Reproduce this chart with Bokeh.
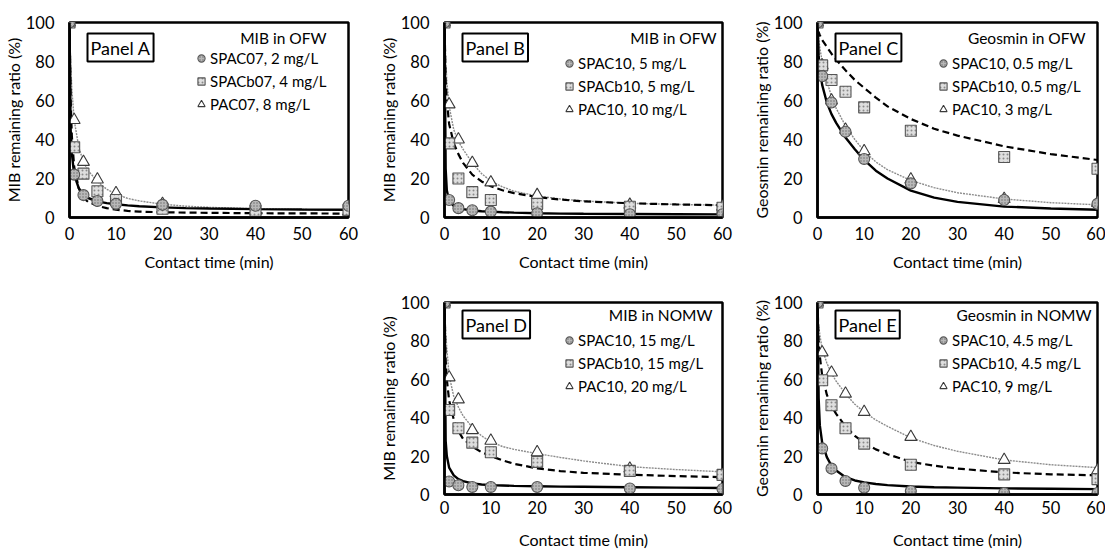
from bokeh.plotting import figure
from bokeh.models import Range1d, FixedTicker, Legend, LegendItem, Label, Spacer
from bokeh.layouts import row, column
from bokeh.embed import file_html
from bokeh.resources import INLINE

# ---------------- data ----------------
TIME = [0, 1, 3, 6, 10, 20, 40, 60]
TFIT = [0, 0.25, 0.5, 1, 2, 3, 4, 6, 8, 10, 12.5, 15, 20, 25, 30, 40, 50, 60]
X_TICKS = [0, 10, 20, 30, 40, 50, 60]
Y_TICKS = [0, 20, 40, 60, 80, 100]

# Panel A: MIB in OFW
A_NAMES = ["SPAC07, 2 mg/L", "SPACb07, 4 mg/L", "PAC07, 8 mg/L"]
A_SPAC = [100, 22, 11.5, 8.5, 7, 6.5, 6, 6]
A_SPACB = [100, 36, 22.5, 13.5, 9, 4.5, 3.5, 4]
A_PAC = [100, 50, 28.5, 19.5, 12.5, 7, 3.5, 3]
A_FIT_SPAC = [100, 45, 33, 22, 15, 11.5, 10, 8.3, 7.4, 6.8, 6.2, 5.8, 5.2, 4.8, 4.6, 4.3, 4.1, 4.0]
A_FIT_SPACB = [100, 60, 42, 26, 15, 10, 8, 6, 4.8, 4, 3.4, 3, 2.7, 2.5, 2.4, 2.2, 2.1, 2.0]
A_FIT_PAC = [100, 80, 66, 50, 36, 28.5, 24, 18.5, 14.5, 12, 9.8, 8.5, 6.8, 5.8, 5.2, 4.5, 4.1, 3.8]

# Panel B: MIB in OFW
B_NAMES = ["SPAC10, 5 mg/L", "SPACb10, 5 mg/L", "PAC10, 10 mg/L"]
B_SPAC = [100, 9, 4.8, 3.7, 3, 2.2, 1.7, 1.7]
B_SPACB = [100, 38, 20, 13, 9, 7, 5.5, 5]
B_PAC = [100, 58, 40, 28, 18, 11.5, 6.5, 5.5]
B_FIT_SPAC = [100, 25, 14, 8.5, 6, 5, 4.3, 3.6, 3.2, 3, 2.7, 2.5, 2.2, 2.0, 1.9, 1.8, 1.7, 1.6]
B_FIT_SPACB = [100, 70, 60, 48, 38, 32.5, 28, 22, 18.5, 16, 14, 12.5, 10.5, 9.2, 8.3, 7.3, 6.7, 6.3]
B_FIT_PAC = [100, 82, 70, 57, 45, 39, 35, 28, 22.5, 18.7, 15.7, 13.5, 11, 9.5, 8.5, 7.3, 6.7, 6.3]

# Panel C: Geosmin in OFW
C_NAMES = ["SPAC10, 0.5 mg/L", "SPACb10, 0.5 mg/L", "PAC10, 3 mg/L"]
C_SPAC = [100, 72.5, 59, 44, 30, 17.5, 9, 7]
C_SPACB = [100, 78, 70.5, 64.5, 56.5, 44.5, 31, 25]
C_PAC = [100, 78, 60, 45, 34, 19.5, 9.5, 7.5]
C_FIT_SPAC = [100, 83, 76, 68, 59, 53, 48.5, 41, 35, 29.5, 24, 20, 13.8, 10.2, 8, 5.6, 4.6, 4.0]
C_FIT_SPACB = [96, 95, 93.5, 91, 87.5, 84, 81, 75.5, 70.5, 66.5, 61.5, 57, 50.5, 45.5, 42, 36.5, 32.5, 29.5]
C_FIT_PAC = [100, 92, 87, 80, 70, 62, 56, 47, 40, 34, 28.5, 24.5, 19, 15.3, 12.7, 9.5, 7.6, 6.5]

# Panel D: MIB in NOMW
D_NAMES = ["SPAC10, 15 mg/L", "SPACb10, 15 mg/L", "PAC10, 20 mg/L"]
D_SPAC = [100, 6.8, 4.8, 3.9, 3.9, 3.9, 3.1, 2.9]
D_SPACB = [100, 44, 34.5, 27, 22, 17, 12.3, 10.2]
D_PAC = [100, 61, 49.5, 33.5, 28, 22, 13.5, 10.2]
D_FIT_SPAC = [100, 28, 20, 14, 10, 8, 7, 5.8, 5.2, 4.9, 4.7, 4.5, 4.3, 4.1, 4.0, 3.8, 3.6, 3.4]
D_FIT_SPACB = [100, 70, 60, 49, 39, 33, 29, 25, 22, 20, 17.8, 16, 13.6, 12.2, 11.3, 10.3, 9.6, 9.0]
D_FIT_PAC = [100, 85, 76, 62, 51, 45.5, 41, 35, 30.5, 27.5, 25, 23.5, 21.3, 19.3, 17.5, 14.5, 13, 11.8]

# Panel E: Geosmin in NOMW
E_NAMES = ["SPAC10, 4.5 mg/L", "SPACb10, 4.5 mg/L", "PAC10, 9 mg/L"]
E_SPAC = [100, 24, 13.5, 7, 3.5, 1.8, 0.8, 0.8]
E_SPACB = [100, 59.5, 46.5, 34.5, 26.5, 15.5, 10.5, 8]
E_PAC = [100, 74, 63.5, 52.5, 43, 30, 18, 12.5]
E_FIT_SPAC = [100, 50, 36, 27, 19.5, 15, 12.5, 9, 7.3, 6.3, 5.5, 4.9, 4.2, 3.8, 3.6, 3.2, 3.0, 2.8]
E_FIT_SPACB = [100, 80, 72, 62, 52, 46, 42, 35.5, 30.5, 27, 23.5, 21, 17, 15, 13.5, 11.5, 10.5, 10]
E_FIT_PAC = [100, 88, 83, 76, 68.5, 63, 59, 52.5, 47, 43, 38.8, 35.5, 29.5, 25.5, 22.5, 18, 15.5, 14]

FONT = "Lato"
FRAME_W, FRAME_H = 280, 195


def make_panel(label, legend_title, ylabel, names, pts, fits, width, height,
               b_left, b_right, b_top, b_bottom, x_std, x_title_std,
               leg_x, leg_top, title_right):
    p = figure(width=width, height=height, x_range=Range1d(0, 60), y_range=Range1d(0, 100),
               output_backend="svg", toolbar_location=None,
               min_border_left=b_left, min_border_right=b_right,
               min_border_top=b_top, min_border_bottom=b_bottom)
    p.xgrid.visible = False
    p.ygrid.visible = False
    p.background_fill_color = "white"
    p.border_fill_color = "white"
    p.outline_line_color = "black"
    p.outline_line_width = 2.5
    p.outline_line_alpha = 1.0

    p.xaxis.ticker = FixedTicker(ticks=X_TICKS)
    p.yaxis.ticker = FixedTicker(ticks=Y_TICKS)
    for ax in (p.xaxis, p.yaxis):
        ax.axis_line_width = 2.5
        ax.axis_line_color = "black"
        ax.major_tick_line_color = None
        ax.minor_tick_line_color = None
        ax.major_label_text_font = FONT
        ax.major_label_text_font_size = "16.5px"
        ax.major_label_text_color = "black"
        ax.axis_label_text_font = FONT
        ax.axis_label_text_font_size = "16px"
        ax.axis_label_text_font_style = "normal"
        ax.axis_label_text_color = "black"
    p.xaxis.axis_label = "Contact time (min)"
    p.yaxis.axis_label = ylabel
    p.xaxis.major_label_standoff = x_std
    p.xaxis.axis_label_standoff = x_title_std
    p.yaxis.major_label_standoff = 9
    p.yaxis.axis_label_standoff = 0

    f_spac, f_spacb, f_pac = fits
    p.line(TFIT, f_pac, line_color="#8c8c8c", line_width=1.4, line_dash="2 1")
    p.line(TFIT, f_spacb, line_color="black", line_width=2.2, line_dash="7 4")
    p.line(TFIT, f_spac, line_color="black", line_width=2.4)

    s_spac, s_spacb, s_pac = pts
    r_tri = p.scatter(TIME, s_pac, marker="triangle", size=12, fill_color="white",
                      line_color="#3a3a3a", line_width=1.1)
    r_sq = p.scatter(TIME, s_spacb, marker="square", size=11, fill_color="#dedede",
                     line_color="#555555", line_width=1.1,
                     hatch_pattern="dot", hatch_color="#8a8a8a", hatch_scale=4, hatch_weight=1)
    r_ci = p.scatter(TIME, s_spac, marker="circle", size=11, fill_color="#b8b8b8",
                     line_color="#555555", line_width=1.1,
                     hatch_pattern="dot", hatch_color="#6e6e6e", hatch_scale=3, hatch_weight=1)

    items = [LegendItem(label=names[0], renderers=[r_ci]),
             LegendItem(label=names[1], renderers=[r_sq]),
             LegendItem(label=names[2], renderers=[r_tri])]
    item_h, spacing, gw = 21, 2, 18
    box_h = 3 * item_h + 2 * spacing
    leg = Legend(items=items, location=(leg_x - gw // 2, FRAME_H - leg_top - box_h),
                 glyph_width=gw, glyph_height=gw, label_height=item_h, spacing=spacing,
                 padding=0, margin=0, label_standoff=0,
                 border_line_color=None, background_fill_alpha=0.0,
                 label_text_font=FONT, label_text_font_size="15px", label_text_color="black")
    p.add_layout(leg)

    p.add_layout(Label(x=FRAME_W - title_right, y=FRAME_H - 15, x_units="screen", y_units="screen",
                       text=legend_title, text_align="right", text_baseline="middle",
                       text_font=FONT, text_font_size="15.5px", text_color="black"))
    p.add_layout(Label(x=18, y=FRAME_H - 11, x_units="screen", y_units="screen",
                       text=label, text_align="left", text_baseline="top",
                       text_font=FONT, text_font_size="18px", text_color="black",
                       padding=3, border_line_color="black", border_line_width=2,
                       background_fill_color="white"))
    return p


pA = make_panel("Panel A", "MIB in OFW", "MIB remaining ratio (%)", A_NAMES,
                (A_SPAC, A_SPACB, A_PAC), (A_FIT_SPAC, A_FIT_SPACB, A_FIT_PAC),
                375, 280, 68, 27, 22, 63, 3, 9, 132, 25, 23)
pB = make_panel("Panel B", "MIB in OFW", "MIB remaining ratio (%)", B_NAMES,
                (B_SPAC, B_SPACB, B_PAC), (B_FIT_SPAC, B_FIT_SPACB, B_FIT_PAC),
                370, 280, 67, 23, 22, 63, 3, 9, 125, 30, 8)
pC = make_panel("Panel C", "Geosmin in OFW", "Geosmin remaining ratio (%)", C_NAMES,
                (C_SPAC, C_SPACB, C_PAC), (C_FIT_SPAC, C_FIT_SPACB, C_FIT_PAC),
                360, 280, 72, 8, 22, 63, 3, 9, 126, 30, 12)
pD = make_panel("Panel D", "MIB in NOMW", "MIB remaining ratio (%)", D_NAMES,
                (D_SPAC, D_SPACB, D_PAC), (D_FIT_SPAC, D_FIT_SPACB, D_FIT_PAC),
                370, 271, 67, 23, 22, 54, 0, 13, 125, 30, 12)
pE = make_panel("Panel E", "Geosmin in NOMW", "Geosmin remaining ratio (%)", E_NAMES,
                (E_SPAC, E_SPACB, E_PAC), (E_FIT_SPAC, E_FIT_SPACB, E_FIT_PAC),
                360, 271, 72, 8, 22, 54, 0, 13, 126, 30, 6)

layout = column(row(pA, pB, pC), row(Spacer(width=375, height=271), pD, pE))

open("out.html", "w").write(file_html(layout, INLINE))
